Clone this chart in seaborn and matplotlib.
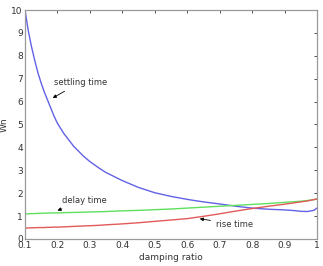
import matplotlib
matplotlib.use("Agg")
import matplotlib.pyplot as plt
import seaborn as sns
import pandas as pd

zeta = [0.1, 0.11, 0.12, 0.13, 0.14, 0.15, 0.16, 0.17, 0.18, 0.19, 0.2, 0.22, 0.25, 0.28, 0.3, 0.33, 0.35, 0.4, 0.45, 0.5,
        0.55, 0.6, 0.65, 0.7, 0.75, 0.8, 0.85, 0.9, 0.93, 0.95, 0.97, 0.99, 1.0]
settling = [10.0, 9.1, 8.4, 7.8, 7.25, 6.8, 6.4, 6.05, 5.7, 5.35, 5.05, 4.6, 4.05, 3.62, 3.38, 3.08, 2.9, 2.55, 2.25, 2.02,
            1.86, 1.73, 1.62, 1.53, 1.43, 1.35, 1.3, 1.27, 1.24, 1.21, 1.2, 1.25, 1.35]
delay = [1.1, 1.1, 1.11, 1.11, 1.12, 1.12, 1.13, 1.13, 1.14, 1.14, 1.14, 1.15, 1.16, 1.17, 1.18, 1.19, 1.2, 1.23, 1.25, 1.28,
         1.31, 1.35, 1.39, 1.43, 1.47, 1.51, 1.55, 1.6, 1.63, 1.65, 1.68, 1.72, 1.74]
rise = [0.48, 0.48, 0.49, 0.49, 0.5, 0.5, 0.5, 0.51, 0.51, 0.52, 0.52, 0.53, 0.55, 0.57, 0.58, 0.6, 0.62, 0.66, 0.71, 0.77,
        0.83, 0.89, 0.99, 1.1, 1.22, 1.33, 1.43, 1.52, 1.58, 1.62, 1.66, 1.72, 1.75]

xticks = [0.1, 0.2, 0.3, 0.4, 0.5, 0.6, 0.7, 0.8, 0.9, 1.0]
xticklabels = ["0.1", "0.2", "0.3", "0.4", "0.5", "0.6", "0.7", "0.8", "0.9", "1"]
yticks = list(range(0, 11))

df = pd.DataFrame({"zeta": zeta * 3,
                   "value": settling + delay + rise,
                   "series": ["settling time"] * len(zeta) + ["delay time"] * len(zeta) + ["rise time"] * len(zeta)})

sns.set_style("white")
plt.rcParams['font.family'] = ['DejaVu Sans']

fig = plt.figure(figsize=(3.23, 2.66), dpi=100)
ax = fig.add_axes([25 / 323, 1 - 239 / 266, (317 - 25) / 323, (239 - 10) / 266])

sns.lineplot(data=df, x="zeta", y="value", hue="series",
             palette={"settling time": "#6262e6", "delay time": "#5ee05e", "rise time": "#e25a5a"},
             linewidth=1.0, legend=False, ax=ax, sort=True)

ax.set_xlim(0.1, 1.0)
ax.set_ylim(0, 10)
ax.set_xticks(xticks)
ax.set_xticklabels(xticklabels)
ax.set_yticks(yticks)
ax.tick_params(direction="in", length=2.5, width=0.6, labelsize=6.5, colors="#333333",
               top=True, right=True, pad=1.5)
for s in ax.spines.values():
    s.set_color("#999999")
    s.set_linewidth(0.9)
ax.set_xlabel("damping ratio", fontsize=6.5, color="#333333", labelpad=2)
ax.set_ylabel("Wn", fontsize=6.5, color="#333333", labelpad=2)

arrow = dict(arrowstyle="-|>", color="black", lw=0.6, mutation_scale=5)
ax.annotate("settling time", xy=(0.178, 6.1), xytext=(0.19, 6.85),
            fontsize=6, color="#333333", arrowprops=arrow, va="center")
ax.annotate("delay time", xy=(0.192, 1.2), xytext=(0.215, 1.7),
            fontsize=6, color="#333333", arrowprops=arrow, va="center")
ax.annotate("rise time", xy=(0.63, 0.9), xytext=(0.69, 0.65),
            fontsize=6, color="#333333", arrowprops=arrow, va="center")

fig.savefig("out.png", dpi=100, facecolor="white")
